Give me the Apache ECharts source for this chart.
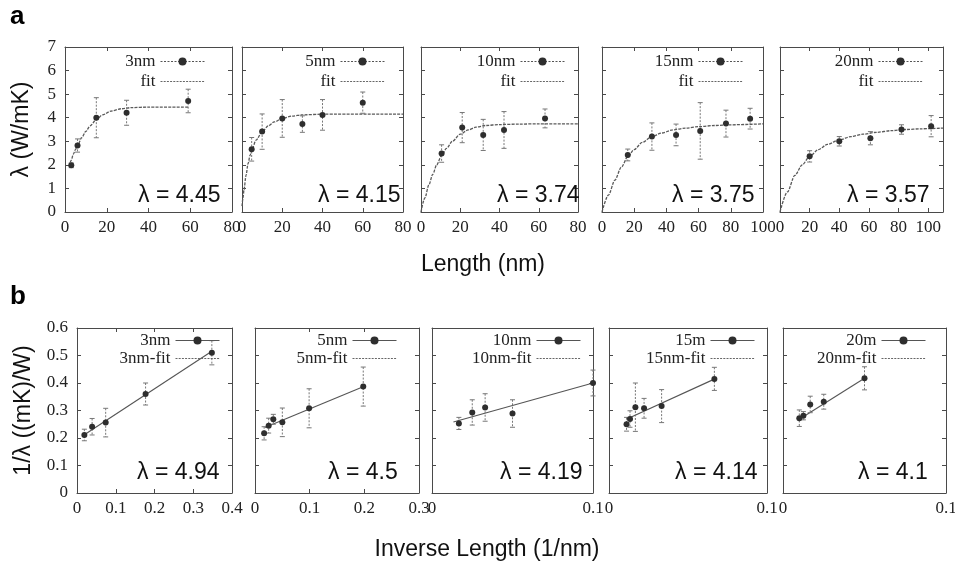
<!DOCTYPE html>
<html>
<head>
<meta charset="utf-8">
<script src="https://cdn.jsdelivr.net/npm/echarts@6/dist/echarts.min.js"></script>
<style>
  html, body { margin: 0; padding: 0; background: #fff; }
  #chart { width: 955px; height: 565px; }
</style>
</head>
<body>
<div id="chart"></div>
<script>
// ---------- Panel a: conductivity vs length ----------
const topNames = ['3nm', '5nm', '10nm', '15nm', '20nm'];
const topFitName = 'fit';
const topLambda = ['4.45', '4.15', '3.74', '3.75', '3.57'];
const topXMax = [80, 80, 80, 100, 110];

const lenA1 = [3, 6, 15, 29.5, 59];
const kapA1 = [1.98, 2.82, 4.0, 4.21, 4.71];
const errA1 = [0.1, 0.28, 0.85, 0.53, 0.5];
const fitA1x = [2, 3, 4, 5, 6, 8, 10, 12, 15, 18, 22, 27, 32, 40, 59];
const fitA1y = [1.93, 2.2, 2.45, 2.65, 2.82, 3.15, 3.42, 3.65, 3.92, 4.12, 4.28, 4.38, 4.43, 4.45, 4.45];

const lenA2 = [4.8, 10, 20, 30, 40, 60];
const kapA2 = [2.66, 3.41, 3.97, 3.73, 4.12, 4.64];
const errA2 = [0.5, 0.75, 0.8, 0.35, 0.65, 0.45];
const fitA2x = [0, 0.5, 1, 2, 3, 4, 5, 7, 10, 13, 16, 20, 25, 30, 40, 80];
const fitA2y = [0.25, 0.6, 0.95, 1.55, 2.05, 2.4, 2.68, 3.05, 3.4, 3.65, 3.82, 3.97, 4.07, 4.12, 4.15, 4.15];

const lenA3 = [10.5, 21, 31.7, 42.3, 63.2];
const kapA3 = [2.48, 3.58, 3.27, 3.48, 3.97];
const errA3 = [0.37, 0.64, 0.66, 0.78, 0.4];
const fitA3x = [0, 2, 4, 6, 8, 10.5, 13, 16, 20, 24, 28, 33, 40, 50, 60, 80];
const fitA3y = [0, 0.6, 1.15, 1.6, 2.0, 2.4, 2.7, 3.0, 3.3, 3.48, 3.6, 3.67, 3.71, 3.73, 3.74, 3.74];

const lenA4 = [16, 31, 46, 61, 77, 92];
const kapA4 = [2.42, 3.2, 3.27, 3.44, 3.75, 3.96];
const errA4 = [0.25, 0.58, 0.46, 1.2, 0.57, 0.44];
const fitA4x = [0, 4, 8, 12, 16, 20, 25, 31, 37, 44, 52, 60, 70, 80, 100];
const fitA4y = [0, 0.72, 1.35, 1.9, 2.35, 2.65, 2.95, 3.2, 3.35, 3.48, 3.56, 3.62, 3.67, 3.7, 3.74];

const lenA5 = [20, 40, 61, 82, 102];
const kapA5 = [2.36, 3.0, 3.13, 3.5, 3.64];
const errA5 = [0.24, 0.2, 0.28, 0.2, 0.45];
const fitA5x = [0, 5, 10, 15, 20, 26, 32, 40, 48, 56, 65, 75, 85, 95, 110];
const fitA5y = [0, 0.85, 1.55, 2.0, 2.36, 2.65, 2.87, 3.06, 3.2, 3.3, 3.38, 3.45, 3.5, 3.53, 3.56];

// ---------- Panel b: inverse conductivity vs inverse length ----------
const bottomNames = ['3nm', '5nm', '10nm', '15m', '20m'];
const bottomFitNames = ['3nm-fit', '5nm-fit', '10nm-fit', '15nm-fit', '20nm-fit'];
const bottomLambda = ['4.94', '4.5', '4.19', '4.14', '4.1'];
const bottomXMax = [0.4, 0.3, 0.1, 0.1, 0.1];

const invB1 = [0.019, 0.039, 0.074, 0.177, 0.348];
const recB1 = [0.211, 0.241, 0.256, 0.36, 0.51];
const errB1 = [0.021, 0.03, 0.052, 0.04, 0.044];
const fitB1x = [0.015, 0.35];
const fitB1y = [0.208, 0.517];

const invB2 = [0.0167, 0.025, 0.0335, 0.05, 0.099, 0.198];
const recB2 = [0.217, 0.245, 0.268, 0.257, 0.308, 0.387];
const errB2 = [0.024, 0.027, 0.018, 0.052, 0.071, 0.071];
const fitB2x = [0.018, 0.2];
const fitB2y = [0.238, 0.388];

const invB3 = [0.0167, 0.025, 0.033, 0.05, 0.1];
const recB3 = [0.253, 0.293, 0.311, 0.289, 0.4];
const errB3 = [0.022, 0.046, 0.05, 0.05, 0.047];
const fitB3x = [0.0133, 0.1];
const fitB3y = [0.258, 0.4];

const invB4 = [0.0111, 0.0133, 0.0167, 0.0222, 0.0333, 0.0667];
const recB4 = [0.25, 0.269, 0.312, 0.308, 0.316, 0.415];
const errB4 = [0.025, 0.03, 0.088, 0.036, 0.06, 0.042];
const fitB4x = [0.011, 0.067];
const fitB4y = [0.268, 0.415];

const invB5 = [0.01, 0.0125, 0.0167, 0.025, 0.05];
const recB5 = [0.272, 0.281, 0.322, 0.332, 0.417];
const errB5 = [0.03, 0.015, 0.03, 0.027, 0.042];
const fitB5x = [0.01, 0.05];
const fitB5y = [0.268, 0.417];

// ---------- Layout ----------
const W = 955;
const SERIF = '"Liberation Serif", "DejaVu Serif", serif';
const SANS = '"Liberation Sans", Arial, sans-serif';
const AXIS_COLOR = '#4a4a4a';

const rowSpec = {
  top:    { top: 47,  bottom: 212, edges: [[65, 232], [242, 403], [421, 578], [602, 763], [780, 943]],
            lamLeft: [73, 76, 76, 70, 67], lamTop: 28, legendInset: [27, 18, 13, 20, 20], legendTop: 6 },
  bottom: { top: 328, bottom: 493, edges: [[77, 232], [255, 419], [432, 593], [609, 767], [783, 946]],
            lamLeft: [60, 73, 68, 66, 75], lamTop: 32, legendInset: [12, 22, 12, 12, 20], legendTop: 4 }
};

const zip = (xs, ys) => xs.map((x, i) => [x, ys[i]]);
const zip3 = (xs, ys, es) => xs.map((x, i) => [x, ys[i], es[i]]);

const panels = [
  { row: 'top', name: topNames[0], fitName: topFitName, lam: topLambda[0], xMax: topXMax[0], pts: zip3(lenA1, kapA1, errA1), fit: zip(fitA1x, fitA1y) },
  { row: 'top', name: topNames[1], fitName: topFitName, lam: topLambda[1], xMax: topXMax[1], pts: zip3(lenA2, kapA2, errA2), fit: zip(fitA2x, fitA2y) },
  { row: 'top', name: topNames[2], fitName: topFitName, lam: topLambda[2], xMax: topXMax[2], pts: zip3(lenA3, kapA3, errA3), fit: zip(fitA3x, fitA3y) },
  { row: 'top', name: topNames[3], fitName: topFitName, lam: topLambda[3], xMax: topXMax[3], pts: zip3(lenA4, kapA4, errA4), fit: zip(fitA4x, fitA4y) },
  { row: 'top', name: topNames[4], fitName: topFitName, lam: topLambda[4], xMax: topXMax[4], pts: zip3(lenA5, kapA5, errA5), fit: zip(fitA5x, fitA5y) },
  { row: 'bottom', name: bottomNames[0], fitName: bottomFitNames[0], lam: bottomLambda[0], xMax: bottomXMax[0], pts: zip3(invB1, recB1, errB1), fit: zip(fitB1x, fitB1y) },
  { row: 'bottom', name: bottomNames[1], fitName: bottomFitNames[1], lam: bottomLambda[1], xMax: bottomXMax[1], pts: zip3(invB2, recB2, errB2), fit: zip(fitB2x, fitB2y) },
  { row: 'bottom', name: bottomNames[2], fitName: bottomFitNames[2], lam: bottomLambda[2], xMax: bottomXMax[2], pts: zip3(invB3, recB3, errB3), fit: zip(fitB3x, fitB3y) },
  { row: 'bottom', name: bottomNames[3], fitName: bottomFitNames[3], lam: bottomLambda[3], xMax: bottomXMax[3], pts: zip3(invB4, recB4, errB4), fit: zip(fitB4x, fitB4y) },
  { row: 'bottom', name: bottomNames[4], fitName: bottomFitNames[4], lam: bottomLambda[4], xMax: bottomXMax[4], pts: zip3(invB5, recB5, errB5), fit: zip(fitB5x, fitB5y) }
];

const grid = [], xAxis = [], yAxis = [], series = [], legend = [], title = [];

function errorBarRender(params, api) {
  const x = api.value(0), y = api.value(1), e = api.value(2);
  const hi = api.coord([x, y + e]);
  const lo = api.coord([x, y - e]);
  const cap = 2.5;
  const capStyle = { stroke: '#777', lineWidth: 1 };
  return {
    type: 'group',
    children: [
      { type: 'line', shape: { x1: hi[0], y1: hi[1], x2: lo[0], y2: lo[1] },
        style: { stroke: '#777', lineWidth: 1, lineDash: [2, 1.5] } },
      { type: 'line', shape: { x1: hi[0] - cap, y1: hi[1], x2: hi[0] + cap, y2: hi[1] }, style: capStyle },
      { type: 'line', shape: { x1: lo[0] - cap, y1: lo[1], x2: lo[0] + cap, y2: lo[1] }, style: capStyle }
    ]
  };
}

panels.forEach((p, i) => {
  const spec = rowSpec[p.row];
  const col = i % 5;
  const [l, r] = spec.edges[col];
  const isTop = p.row === 'top';
  const yMax = isTop ? 7 : 0.6;
  const yInt = isTop ? 1 : 0.1;
  const xInt = isTop ? 20 : 0.1;
  const rem = p.xMax % xInt;
  const maxOnTick = rem < 1e-9 || Math.abs(rem - xInt) < 1e-9;

  grid.push({ left: l, top: spec.top, width: r - l, height: spec.bottom - spec.top,
              containLabel: false, outerBoundsMode: 'none' });

  const tick = { show: true, inside: true, length: 4, lineStyle: { color: AXIS_COLOR, width: 1 } };
  const line = { show: true, onZero: false, lineStyle: { color: AXIS_COLOR, width: 1 } };
  const labelStyle = { fontFamily: SERIF, fontSize: 17, color: '#222' };

  xAxis.push({
    type: 'value', gridIndex: i, position: 'bottom', min: 0, max: p.xMax, interval: xInt,
    axisLine: line, axisTick: tick, splitLine: { show: false },
    axisLabel: Object.assign({ margin: 7, showMaxLabel: maxOnTick }, labelStyle)
  });
  xAxis.push({
    type: 'value', gridIndex: i, position: 'top', min: 0, max: p.xMax, interval: xInt,
    axisLine: line, axisTick: tick, splitLine: { show: false }, axisLabel: { show: false }
  });

  const mainY = {
    type: 'value', gridIndex: i, position: 'left', min: 0, max: yMax, interval: yInt,
    axisLine: line, axisTick: tick, splitLine: { show: false },
    axisLabel: Object.assign({ show: col === 0, margin: 9 }, labelStyle)
  };
  if (col === 0) {
    mainY.name = isTop ? 'λ (W/mK)' : '1/λ ((mK)/W)';
    mainY.nameLocation = 'middle';
    mainY.nameGap = isTop ? 32 : 42;
    mainY.nameTextStyle = { fontFamily: SANS, fontSize: 23, color: '#111' };
  }
  yAxis.push(mainY);
  yAxis.push({
    type: 'value', gridIndex: i, position: 'right', min: 0, max: yMax, interval: yInt,
    axisLine: line, axisTick: tick, splitLine: { show: false }, axisLabel: { show: false }
  });

  const xi = 2 * i, yi = 2 * i;

  series.push({
    type: 'line', name: p.fitName, xAxisIndex: xi, yAxisIndex: yi, data: p.fit,
    smooth: isTop ? 0.3 : false, smoothMonotone: 'x', symbol: 'none', showSymbol: false,
    itemStyle: { color: '#666' },
    lineStyle: isTop ? { color: '#5a5a5a', width: 1.3, type: [3, 1.2] }
                     : { color: '#555', width: 1.1, type: 'solid' },
    z: 2, animation: false, silent: true
  });
  series.push({
    type: 'custom', xAxisIndex: xi, yAxisIndex: yi, data: p.pts,
    encode: { x: 0, y: 1 }, renderItem: errorBarRender, z: 3, animation: false, silent: true
  });
  series.push({
    type: 'line', name: p.name, xAxisIndex: xi, yAxisIndex: yi,
    data: p.pts.map(d => [d[0], d[1]]),
    symbol: 'circle', symbolSize: 6, showSymbol: true,
    itemStyle: { color: '#2e2e2e' }, lineStyle: { opacity: 0 },
    z: 4, animation: false, silent: true
  });

  legend.push({
    data: [
      { name: p.name, lineStyle: { opacity: 1, width: 1, color: '#555', type: isTop ? [2, 1.5] : 'solid' },
        itemStyle: { color: '#2e2e2e' } },
      { name: p.fitName, lineStyle: { opacity: 1, width: 1, color: '#666', type: [2, 1.2] },
        itemStyle: { opacity: 0, color: 'rgba(0,0,0,0)' } }
    ],
    orient: 'vertical', align: 'right', selectedMode: false,
    right: W - r + spec.legendInset[col], top: spec.top + spec.legendTop,
    itemWidth: 44, itemHeight: 10, itemGap: isTop ? 3 : 1, padding: 0,
    textStyle: { fontFamily: SERIF, fontSize: 17, color: '#222' }
  });

  title.push({
    text: 'λ = ' + p.lam, left: l + spec.lamLeft[col], top: spec.bottom - spec.lamTop, padding: 0,
    textStyle: { fontFamily: SANS, fontSize: 23, fontWeight: 'normal', color: '#111' }
  });
});

const chart = echarts.init(document.getElementById('chart'), null, { renderer: 'canvas' });
chart.setOption({
  backgroundColor: '#fff',
  animation: false,
  grid, xAxis, yAxis, series, legend, title,
  graphic: [
    { type: 'text', x: 10, y: 4, style: { text: 'a', font: 'bold 26px ' + SANS, fill: '#000' } },
    { type: 'text', x: 10, y: 284, style: { text: 'b', font: 'bold 26px ' + SANS, fill: '#000' } },
    { type: 'text', x: 483, y: 265, style: { text: 'Length (nm)', font: '23px ' + SANS, fill: '#111', align: 'center', verticalAlign: 'middle' } },
    { type: 'text', x: 487, y: 550, style: { text: 'Inverse Length (1/nm)', font: '23px ' + SANS, fill: '#111', align: 'center', verticalAlign: 'middle' } }
  ]
});
</script>
</body>
</html>
